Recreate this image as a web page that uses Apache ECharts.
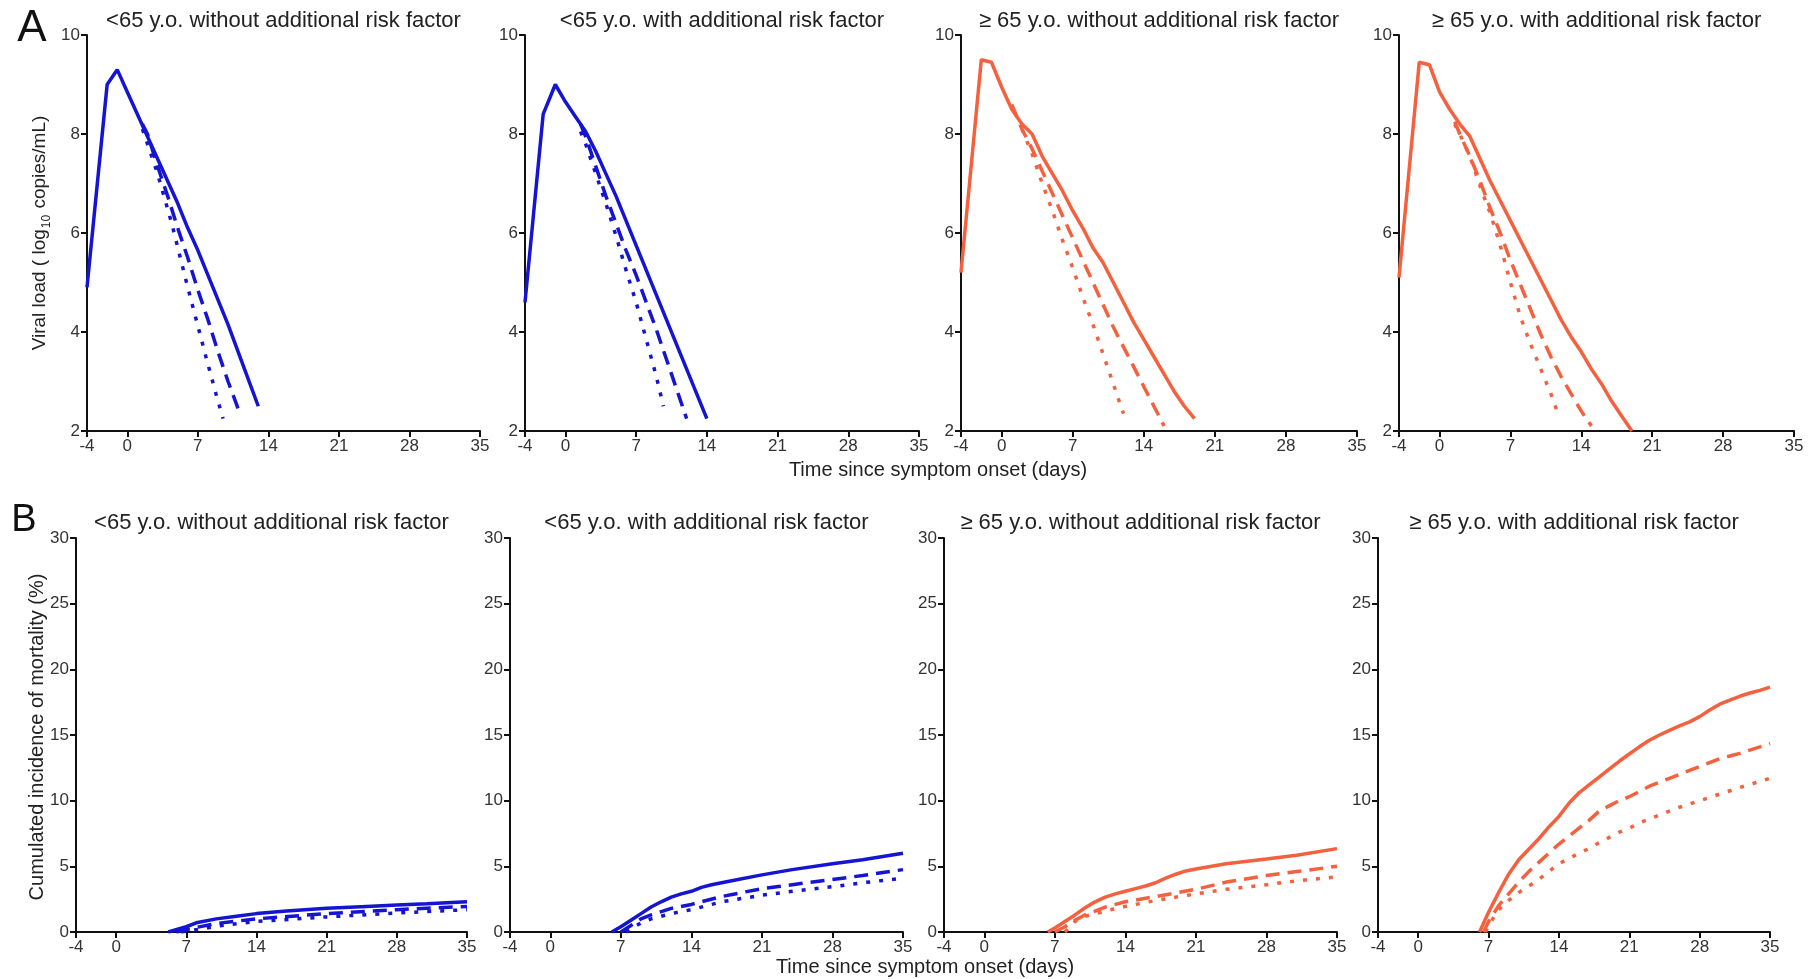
<!DOCTYPE html>
<html>
<head>
<meta charset="utf-8">
<script src="https://cdn.jsdelivr.net/npm/echarts@6.0.0/dist/echarts.min.js"></script>
<style>html,body{margin:0;padding:0;background:#fff;}#c{width:1810px;height:979px;}</style>
</head>
<body>
<div id="c"></div>
<script>
// ---------- tick labels / categories ----------
const xTicks = [-4, 0, 7, 14, 21, 28, 35];
const panelTitles = [
  '<65 y.o. without additional risk factor',
  '<65 y.o. with additional risk factor',
  '\u2265 65 y.o. without additional risk factor',
  '\u2265 65 y.o. with additional risk factor'
];
const xTitle = 'Time since symptom onset (days)';

// ---------- Panel A: viral load (log10 copies/mL) ----------
const a1Solid  = [[-4,4.9],[-2,9.0],[-1,9.3],[0,8.85],[1,8.4],[2,7.95],[3,7.5],[4,7.05],[5,6.6],[6,6.1],[7,5.65],[8,5.15],[9,4.65],[10,4.15],[11,3.6],[12,3.05],[13,2.5]];
const a1Dashed = [[1.5,8.2],[2,8.0],[3,7.35],[4,6.75],[5,6.1],[6,5.5],[7,4.85],[8,4.25],[9,3.6],[10,3.0],[11,2.45]];
const a1Dotted = [[1.5,8.1],[3,7.2],[4.4,6.2],[6,4.9],[7.8,3.5],[8.8,2.75],[9.5,2.25]];

const a2Solid  = [[-4,4.6],[-2.2,8.4],[-1,9.0],[0,8.65],[1,8.35],[2,8.05],[3,7.65],[4,7.2],[5,6.75],[6,6.25],[7,5.75],[8,5.25],[9,4.75],[10,4.25],[11,3.75],[12,3.25],[13,2.75],[14,2.25]];
const a2Dashed = [[1.5,8.2],[2,7.95],[3,7.35],[4,6.75],[5,6.2],[6,5.65],[7,5.15],[8,4.6],[9,4.05],[10,3.45],[11,2.85],[12,2.25]];
const a2Dotted = [[1.5,8.05],[2,7.8],[3,7.2],[4,6.6],[5,5.95],[6,5.25],[7,4.6],[8,3.85],[9,3.1],[9.7,2.5]];

const a3Solid  = [[-4,5.2],[-2,9.5],[-1,9.45],[0,8.95],[1,8.5],[2,8.2],[3,8.0],[4,7.55],[5,7.2],[6,6.85],[7,6.45],[8,6.1],[9,5.7],[10,5.4],[11,5.0],[12,4.6],[13,4.2],[14,3.85],[15,3.5],[16,3.15],[17,2.8],[18,2.5],[19,2.25]];
const a3Dashed = [[1,8.6],[2,8.1],[3,7.7],[4,7.25],[5,6.8],[6,6.35],[7,5.9],[8,5.45],[9,5.0],[10,4.55],[11,4.1],[12,3.7],[13,3.3],[14,2.9],[15,2.5],[16,2.1]];
const a3Dotted = [[2,8.1],[3,7.6],[4,7.0],[5,6.45],[6,5.85],[7,5.3],[8,4.7],[9,4.15],[10,3.55],[11,2.95],[12,2.35]];

const a4Solid  = [[-4,5.1],[-2,9.45],[-1,9.4],[0,8.85],[1,8.5],[2,8.2],[3,7.95],[4,7.5],[5,7.05],[6,6.65],[7,6.25],[8,5.85],[9,5.45],[10,5.05],[11,4.65],[12,4.25],[13,3.9],[14,3.6],[15,3.25],[16,2.95],[17,2.6],[18,2.3],[19,2.0]];
const a4Dashed = [[1.5,8.25],[2,8.0],[3,7.55],[4,7.05],[5,6.5],[6,6.0],[7,5.45],[8,4.95],[9,4.45],[10,3.95],[11,3.5],[12,3.1],[13,2.75],[14,2.4],[15,2.1]];
const a4Dotted = [[1.5,8.2],[2,8.0],[3,7.55],[4,6.95],[5,6.4],[6,5.75],[7,5.0],[8,4.3],[9,3.75],[10,3.25],[11,2.75],[11.7,2.35]];

// ---------- Panel B: cumulated incidence of mortality (%) ----------
const b1Solid  = [[5.2,0],[7,0.4],[8,0.7],[10,1.0],[12,1.2],[14,1.4],[17,1.6],[21,1.8],[25,1.95],[28,2.05],[31,2.15],[35,2.3]];
const b1Dashed = [[6,0],[8,0.35],[10,0.65],[14,1.0],[21,1.4],[28,1.7],[35,1.95]];
const b1Dotted = [[6.5,0],[9,0.3],[10,0.45],[14,0.8],[21,1.15],[28,1.45],[35,1.7]];

const b2Solid  = [[6.1,0],[7,0.4],[8,0.9],[9,1.4],[10,1.9],[11,2.3],[12,2.65],[13,2.9],[14,3.1],[15,3.4],[16,3.6],[18,3.9],[21,4.35],[24,4.75],[28,5.2],[31,5.5],[35,6.0]];
const b2Dashed = [[7,0],[8,0.5],[9,1.0],[10,1.3],[12,1.8],[14,2.1],[17,2.7],[21,3.3],[24,3.6],[28,4.0],[31,4.3],[35,4.75]];
const b2Dotted = [[7.5,0],[9,0.7],[10,1.0],[12,1.4],[14,1.7],[17,2.3],[21,2.8],[24,3.1],[28,3.45],[31,3.75],[35,4.1]];

const b3Solid  = [[6.3,0],[7,0.3],[8,0.8],[9,1.3],[10,1.85],[11,2.3],[12,2.65],[13,2.9],[14,3.1],[15,3.3],[16,3.5],[17,3.75],[18,4.1],[19,4.4],[20,4.65],[21,4.8],[24,5.2],[28,5.55],[31,5.85],[35,6.35]];
const b3Dashed = [[7,0],[8,0.4],[9,0.9],[10,1.3],[12,1.9],[14,2.3],[17,2.7],[21,3.25],[24,3.8],[28,4.3],[31,4.6],[35,5.0]];
const b3Dotted = [[8,0],[9,0.8],[10,1.2],[12,1.6],[14,1.95],[17,2.4],[21,2.9],[24,3.25],[28,3.6],[31,3.9],[35,4.2]];

const b4Solid  = [[6.1,0],[7,1.5],[8,3.0],[9,4.4],[10,5.5],[11,6.3],[12,7.1],[13,8.0],[14,8.8],[15,9.8],[16,10.6],[17,11.2],[18,11.8],[19,12.4],[20,13.0],[21,13.55],[22,14.1],[23,14.6],[24,15.0],[25,15.35],[26,15.7],[27,16.0],[28,16.4],[29,16.9],[30,17.35],[31,17.65],[32,17.95],[33,18.2],[34,18.4],[35,18.65]];
const b4Dashed = [[6.5,0],[7,0.8],[8,2.0],[9,2.9],[10,3.8],[11,4.6],[12,5.3],[13,6.0],[14,6.7],[15,7.3],[16,7.9],[17,8.5],[18,9.2],[19,9.6],[20,10.0],[21,10.3],[22,10.7],[23,11.1],[24,11.4],[25,11.7],[26,12.0],[27,12.3],[28,12.6],[30,13.2],[32,13.6],[35,14.35]];
const b4Dotted = [[6.7,0],[7,0.5],[8,1.7],[9,2.4],[10,3.0],[11,3.5],[12,4.0],[13,4.6],[14,5.2],[15,5.6],[16,6.0],[17,6.35],[18,6.8],[19,7.2],[20,7.6],[21,7.9],[22,8.3],[23,8.6],[24,8.9],[25,9.2],[26,9.5],[27,9.75],[28,10.0],[30,10.5],[32,11.0],[35,11.7]];

// ---------- layout / style ----------
const BLUE = '#1414d2', ORANGE = '#f4613e';
const FONT = 'Liberation Sans, Arial, sans-serif';
const grids = [
  {left: 87,   top: 35,  width: 393, height: 396},
  {left: 525,  top: 35,  width: 394, height: 396},
  {left: 961,  top: 35,  width: 396, height: 396},
  {left: 1399, top: 35,  width: 395, height: 396},
  {left: 76,   top: 538, width: 391, height: 394},
  {left: 510,  top: 538, width: 393, height: 394},
  {left: 944,  top: 538, width: 393, height: 394},
  {left: 1378, top: 538, width: 392, height: 394}
];
const panels = [
  [a1Solid, a1Dashed, a1Dotted, BLUE],
  [a2Solid, a2Dashed, a2Dotted, BLUE],
  [a3Solid, a3Dashed, a3Dotted, ORANGE],
  [a4Solid, a4Dashed, a4Dotted, ORANGE],
  [b1Solid, b1Dashed, b1Dotted, BLUE],
  [b2Solid, b2Dashed, b2Dotted, BLUE],
  [b3Solid, b3Dashed, b3Dotted, ORANGE],
  [b4Solid, b4Dashed, b4Dotted, ORANGE]
];

const axisLine = {show: true, onZero: false, lineStyle: {color: '#111', width: 2}};
const xAxes = grids.map((g, i) => ({
  type: 'value', gridIndex: i, min: -4, max: 35,
  axisLine: axisLine,
  axisTick: {show: true, customValues: xTicks, length: 6, lineStyle: {color: '#111', width: 2}},
  axisLabel: {customValues: xTicks, color: '#333', fontSize: 17, fontFamily: FONT, margin: 7},
  splitLine: {show: false}
}));
const yAxes = grids.map((g, i) => {
  const top = i < 4;
  return {
    type: 'value', gridIndex: i,
    min: top ? 2 : 0, max: top ? 10 : 30, interval: top ? 2 : 5,
    axisLine: axisLine,
    axisTick: {show: true, length: 6, lineStyle: {color: '#111', width: 2}},
    axisLabel: {color: '#333', fontSize: 17, fontFamily: FONT, margin: 7},
    splitLine: {show: false}
  };
});

const series = [];
panels.forEach((p, i) => {
  const styles = [
    {type: 'solid'},
    {type: [14, 8]},
    {type: [4, 9]}
  ];
  for (let k = 0; k < 3; k++) {
    series.push({
      type: 'line', xAxisIndex: i, yAxisIndex: i,
      data: p[k], showSymbol: false, symbol: 'none', animation: false,
      lineStyle: {color: p[3], width: 3.5, type: styles[k].type},
      z: 3 - k
    });
  }
});

const graphic = [];
grids.forEach((g, i) => {
  graphic.push({
    type: 'text', x: g.left + g.width / 2, y: i < 4 ? 21 : 523,
    style: {text: panelTitles[i % 4], font: '22px ' + FONT, fill: '#222', textAlign: 'center', textVerticalAlign: 'middle'}
  });
});
graphic.push({type: 'text', x: 938, y: 470, style: {text: xTitle, font: '20px ' + FONT, fill: '#222', textAlign: 'center', textVerticalAlign: 'middle'}});
graphic.push({type: 'text', x: 925, y: 967, style: {text: xTitle, font: '20px ' + FONT, fill: '#222', textAlign: 'center', textVerticalAlign: 'middle'}});
graphic.push({type: 'text', x: 32, y: 29, style: {text: 'A', font: '44px ' + FONT, fill: '#111', textAlign: 'center', textVerticalAlign: 'middle'}});
graphic.push({type: 'text', x: 24, y: 521, style: {text: 'B', font: '38px ' + FONT, fill: '#111', textAlign: 'center', textVerticalAlign: 'middle'}});
graphic.push({
  type: 'text', x: 40, y: 233, rotation: Math.PI / 2,
  style: {
    text: 'Viral load ( log{sub|10} copies/mL)',
    font: '19px ' + FONT, fill: '#222', textAlign: 'center', textVerticalAlign: 'middle',
    rich: {sub: {fontSize: 12, fontFamily: FONT, fill: '#222', verticalAlign: 'bottom', lineHeight: 26, padding: [8, 1, 0, 1]}}
  }
});
graphic.push({
  type: 'text', x: 37, y: 737, rotation: Math.PI / 2,
  style: {text: 'Cumulated incidence of mortality (%)', font: '20px ' + FONT, fill: '#222', textAlign: 'center', textVerticalAlign: 'middle'}
});

const chart = echarts.init(document.getElementById('c'), null, {renderer: 'canvas'});
chart.setOption({
  backgroundColor: '#fff',
  animation: false,
  grid: grids.map(g => Object.assign({containLabel: false}, g)),
  xAxis: xAxes,
  yAxis: yAxes,
  series: series,
  graphic: graphic
});
</script>
</body>
</html>
